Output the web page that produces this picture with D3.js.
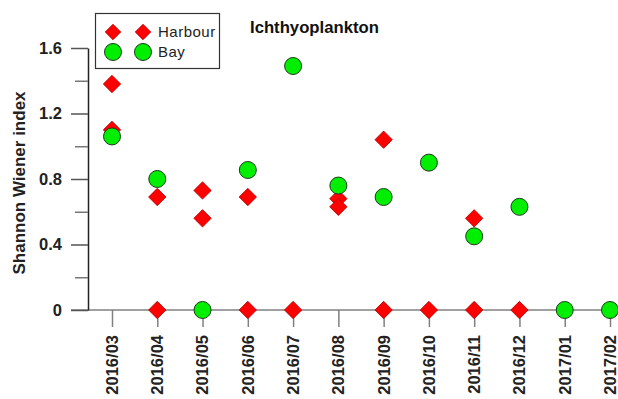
<!DOCTYPE html>
<html>
<head>
<meta charset="utf-8">
<script src="https://cdn.jsdelivr.net/npm/d3@7"></script>
<style>
  html, body { margin: 0; padding: 0; background: #fff; }
  svg { display: block; }
</style>
</head>
<body>
<svg id="chart" width="618" height="399"></svg>
<script>
const months = ["2016/03","2016/04","2016/05","2016/06","2016/07","2016/08","2016/09","2016/10","2016/11","2016/12","2017/01","2017/02"];
// Harbour observations: [month, value]
const harbourMonths = ["2016/03","2016/03","2016/04","2016/04","2016/05","2016/05","2016/06","2016/06","2016/07","2016/08","2016/08","2016/09","2016/09","2016/10","2016/11","2016/11","2016/12"];
const harbourValues = [1.38, 1.10, 0.69, 0, 0.73, 0.56, 0.69, 0, 0, 0.68, 0.63, 1.04, 0, 0, 0.56, 0, 0];
// Bay observations
const bayMonths = ["2016/03","2016/04","2016/05","2016/06","2016/07","2016/08","2016/09","2016/10","2016/11","2016/12","2017/01","2017/02"];
const bayValues = [1.06, 0.80, 0, 0.855, 1.49, 0.76, 0.69, 0.90, 0.45, 0.63, 0, 0];
const yMajorTicks = [0, 0.4, 0.8, 1.2, 1.6];
const yMinorTicks = [0.2, 0.6, 1.0, 1.4];
const seriesNames = ["Harbour", "Bay"];
const titleText = "Ichthyoplankton";
const yTitle = "Shannon Wiener index";

const svg = d3.select("#chart");
const font = "'Liberation Sans', Arial, sans-serif";

const x = d3.scalePoint().domain(months).range([112, 610]);
const y = d3.scaleLinear().domain([0, 1.6]).range([310, 48]);

const red = "#ff0000", green = "#00ee00";

// X baseline
svg.append("line")
  .attr("x1", 71).attr("x2", 618)
  .attr("y1", y(0)).attr("y2", y(0))
  .attr("stroke", "#808080").attr("stroke-width", 1.5);

// X axis ticks
const xAxis = d3.axisBottom(x).tickSize(17).tickSizeOuter(0).tickFormat("");
const gx = svg.append("g").attr("transform", `translate(0,${y(0)})`).call(xAxis);
gx.select(".domain").remove();
gx.selectAll(".tick line").attr("stroke", "#808080").attr("stroke-width", 1.5);

// X labels
svg.append("g").selectAll("text").data(months).join("text")
  .attr("transform", d => `translate(${x(d)},335) rotate(-90)`)
  .attr("text-anchor", "end")
  .attr("dy", "0.36em")
  .attr("font-family", font).attr("font-weight", "bold").attr("font-size", 16.5)
  .attr("fill", "#222")
  .text(d => d);

// Y axis major
const yAxis = d3.axisLeft(y).tickValues(yMajorTicks).tickSize(17).tickSizeOuter(0)
  .tickFormat(d => d === 0 ? "0" : d3.format(".1f")(d)).tickPadding(9);
const gy = svg.append("g").attr("transform", "translate(88,0)").call(yAxis);
gy.select(".domain").attr("stroke", "#222").attr("stroke-width", 1.5);
gy.selectAll(".tick line").attr("stroke", "#555").attr("stroke-width", 1.5);
gy.selectAll(".tick text")
  .attr("font-family", font).attr("font-weight", "bold").attr("font-size", 16.5)
  .attr("fill", "#222");

// Y axis minor
const yMinor = d3.axisLeft(y).tickValues(yMinorTicks).tickSize(13).tickSizeOuter(0).tickFormat("");
const gym = svg.append("g").attr("transform", "translate(88,0)").call(yMinor);
gym.select(".domain").remove();
gym.selectAll(".tick line").attr("stroke", "#777").attr("stroke-width", 1.5);

// Y title
svg.append("text")
  .attr("transform", `translate(25,${(y(0) + y(1.6)) / 2 + 4}) rotate(-90)`)
  .attr("text-anchor", "middle")
  .attr("font-family", font).attr("font-weight", "bold").attr("font-size", 17)
  .attr("fill", "#222")
  .text(yTitle);

// Chart title
svg.append("text")
  .attr("x", 250).attr("y", 33)
  .attr("font-family", font).attr("font-weight", "bold").attr("font-size", 16.7)
  .attr("fill", "#111")
  .text(titleText);

const diamond = d3.symbol().type(d3.symbolSquare).size(150)();

// Harbour
svg.append("g").selectAll("path")
  .data(harbourValues.map((v, i) => ({m: harbourMonths[i], v})))
  .join("path")
  .attr("d", diamond)
  .attr("transform", d => `translate(${x(d.m)},${y(d.v)}) rotate(45)`)
  .attr("fill", red).attr("stroke", "#b00000").attr("stroke-width", 0.8);

// Bay
svg.append("g").selectAll("circle")
  .data(bayValues.map((v, i) => ({m: bayMonths[i], v})))
  .join("circle")
  .attr("cx", d => x(d.m)).attr("cy", d => y(d.v)).attr("r", 8.5)
  .attr("fill", green).attr("stroke", "#1a3a1a").attr("stroke-width", 1);

// Legend
const lg = svg.append("g");
lg.append("rect").attr("x", 95.5).attr("y", 13.5).attr("width", 124).attr("height", 55)
  .attr("fill", "#fff").attr("stroke", "#333").attr("stroke-width", 1.2);
const legendRows = [32, 52];
seriesNames.forEach((name, i) => {
  [113, 143].forEach(cx => {
    if (i === 0) {
      lg.append("path").attr("d", d3.symbol().type(d3.symbolSquare).size(120)())
        .attr("transform", `translate(${cx},${legendRows[i]}) rotate(45)`)
        .attr("fill", red).attr("stroke", "#b00000").attr("stroke-width", 0.8);
    } else {
      lg.append("circle").attr("cx", cx).attr("cy", legendRows[i]).attr("r", 8.5)
        .attr("fill", green).attr("stroke", "#1a3a1a").attr("stroke-width", 1);
    }
  });
  lg.append("text").attr("x", 158).attr("y", legendRows[i] + 5)
    .attr("font-family", font).attr("font-size", 15).attr("letter-spacing", 0.5)
    .attr("fill", "#222")
    .text(name);
});
</script>
</body>
</html>
